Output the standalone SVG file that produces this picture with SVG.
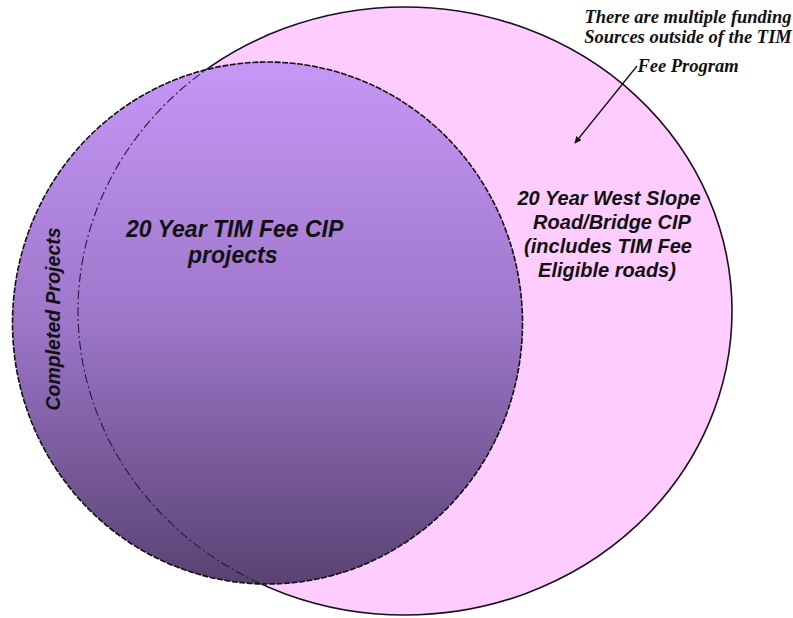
<svg xmlns="http://www.w3.org/2000/svg" width="793" height="618" viewBox="0 0 793 618">
<style>
.note{font-family:"Liberation Serif","Times New Roman",serif;font-weight:bold;font-style:italic;font-size:18.5px;fill:#111;text-anchor:middle}
.lbl{font-family:"Liberation Sans",Arial,sans-serif;font-weight:bold;font-style:italic;fill:#111}
</style>
<defs>
<linearGradient id="pg" x1="0" y1="0" x2="0" y2="1">
<stop offset="0" stop-color="#c697f7"/>
<stop offset="0.5" stop-color="#9d76c9"/>
<stop offset="1" stop-color="#594272"/>
</linearGradient>
<clipPath id="inP"><ellipse cx="267.5" cy="323" rx="255" ry="261"/></clipPath>
<marker id="ah" viewBox="0 0 10 10" refX="9" refY="5" markerWidth="7" markerHeight="7" orient="auto" markerUnits="userSpaceOnUse">
<path d="M0,0 L10,5 L0,10 z" fill="#111"/>
</marker>
</defs>
<rect width="793" height="618" fill="#fff"/>
<g id="west-slope-cip">
<ellipse cx="405" cy="311" rx="327" ry="304" fill="#ffccff" stroke="#1a1020" stroke-width="1.6"/>
</g>
<g id="tim-fee-cip">
<ellipse cx="267.5" cy="323" rx="255" ry="261" fill="url(#pg)" stroke="#111" stroke-width="1.6" stroke-dasharray="6 1.5"/>
</g>
<g id="overlap-boundary">
<ellipse cx="405" cy="311" rx="327" ry="304" fill="none" stroke="#2a1838" stroke-width="1.1" stroke-dasharray="9 3 2 3" clip-path="url(#inP)"/>
</g>
<g id="labels">
<text class="lbl" font-size="23" x="126" y="237">20 Year TIM Fee CIP</text>
<text class="lbl" font-size="23" x="188" y="263">projects</text>
<text class="lbl" font-size="20" text-anchor="middle" x="609" y="205">20 Year West Slope</text>
<text class="lbl" font-size="20" text-anchor="middle" x="612" y="229">Road/Bridge CIP</text>
<text class="lbl" font-size="20" text-anchor="middle" x="608" y="253">(includes TIM Fee</text>
<text class="lbl" font-size="20" text-anchor="middle" x="607" y="277">Eligible roads)</text>
<text class="lbl" font-size="19.5" text-anchor="middle" transform="translate(60,319) rotate(-90)">Completed Projects</text>
</g>
<g id="note">
<text class="note" x="688" y="23">There are multiple funding</text>
<text class="note" x="688" y="43">Sources outside of the TIM</text>
<text class="note" x="688" y="72">Fee Program</text>
</g>
<g id="connectors">
<line x1="637" y1="66" x2="575" y2="143" stroke="#111" stroke-width="1.3" marker-end="url(#ah)"/>
</g>
</svg>
